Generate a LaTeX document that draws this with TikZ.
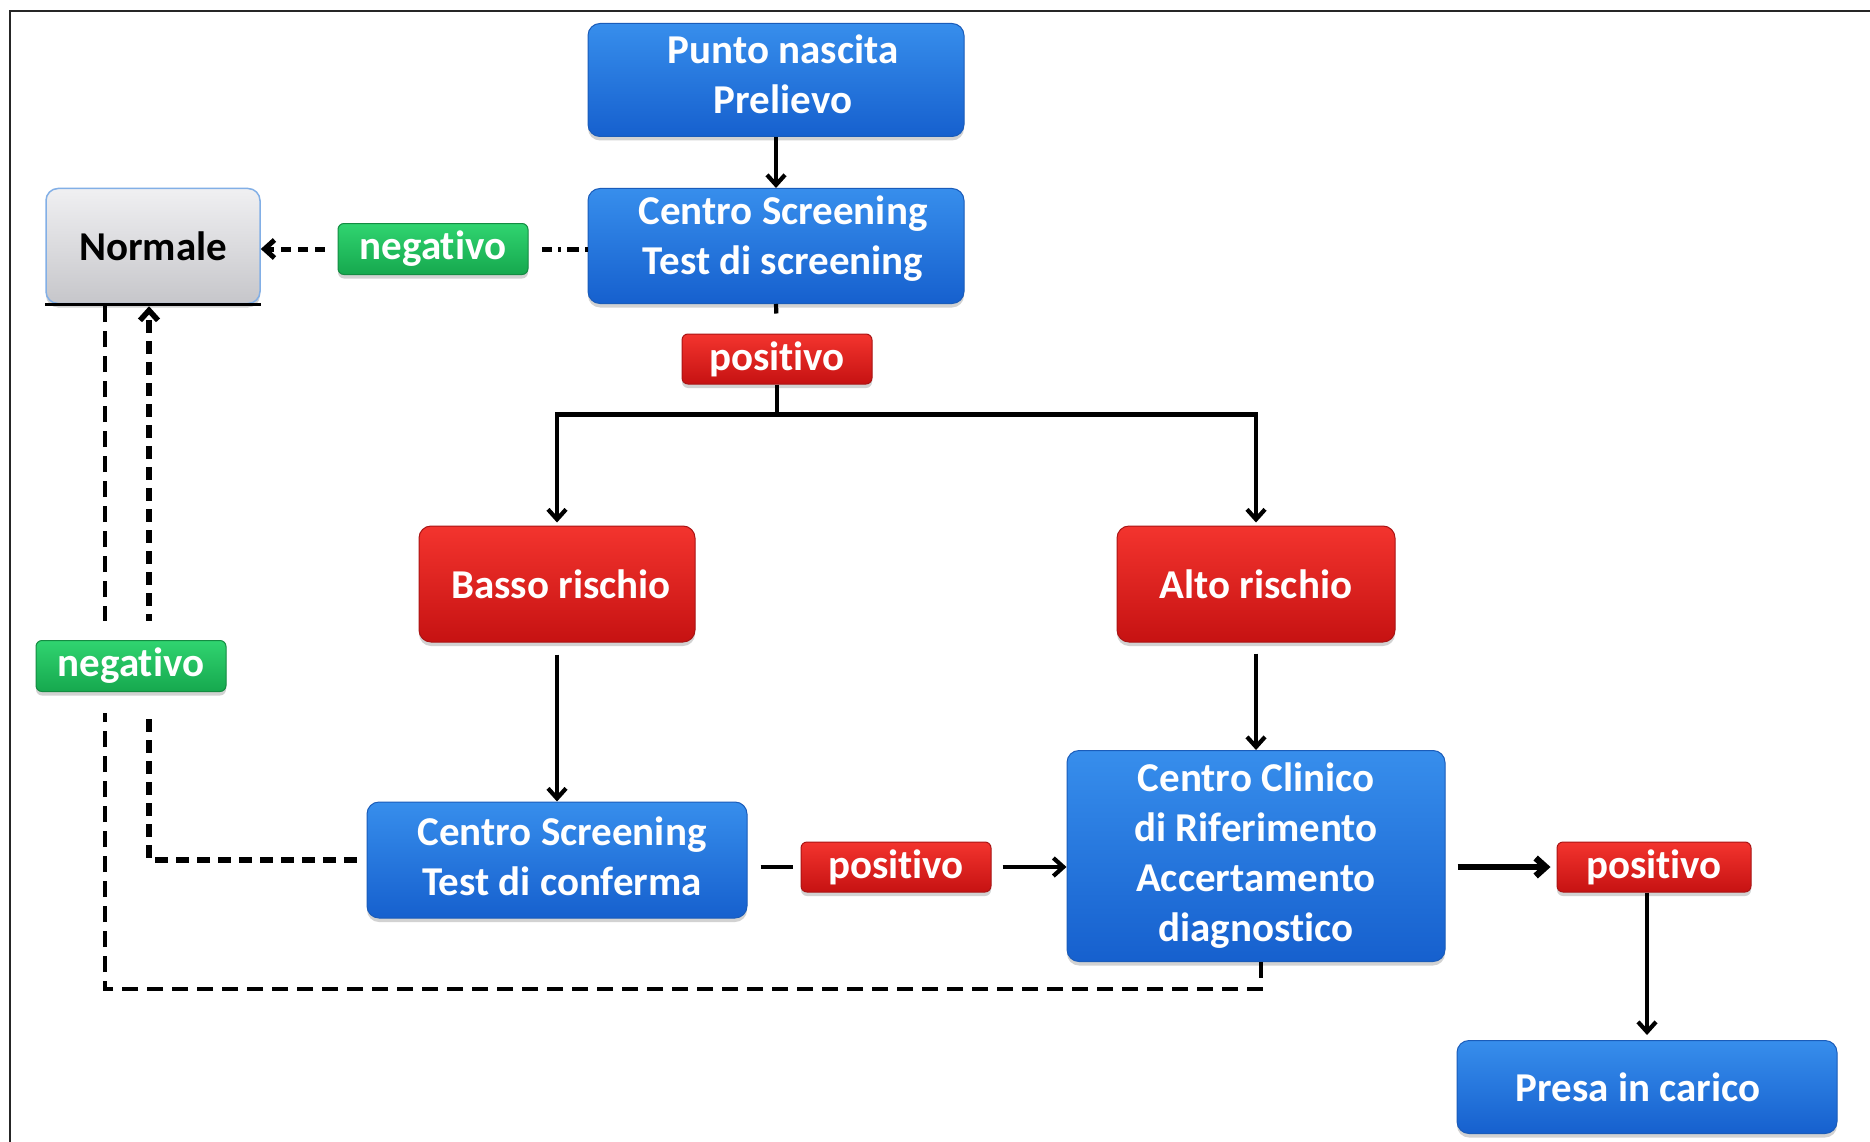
\documentclass[tikz,border=0pt]{standalone}
\usepackage{fontspec}
\setmainfont{Carlito}[RawFeature=-liga]
\usetikzlibrary{arrows.meta,shadows,calc}
\definecolor{bTop}{RGB}{55,142,236}
\definecolor{bBot}{RGB}{22,96,206}
\definecolor{bEdge}{RGB}{26,92,186}
\definecolor{rTop}{RGB}{243,52,46}
\definecolor{rBot}{RGB}{198,18,18}
\definecolor{rEdge}{RGB}{170,20,20}
\definecolor{gTop}{RGB}{48,212,112}
\definecolor{gBot}{RGB}{22,168,78}
\definecolor{gEdge}{RGB}{20,140,66}
\definecolor{nTop}{RGB}{240,240,242}
\definecolor{nBot}{RGB}{198,198,202}
\definecolor{nEdge}{RGB}{130,175,230}
\newcommand{\upln}[2]{\raisebox{#1}[\height][\depth]{#2}}
\begin{document}
\begin{tikzpicture}[x=1pt,y=-1pt,
  base/.style={rounded corners=12pt, inner sep=0pt, align=center, text=white,
    font=\bfseries\fontsize{41}{50}\selectfont,
    drop shadow={shadow xshift=0pt,shadow yshift=-4pt,opacity=.35}},
  bluebox/.style={base, top color=bTop, bottom color=bBot, draw=bEdge, line width=1pt},
  redbox/.style={base, top color=rTop, bottom color=rBot, draw=rEdge, line width=1pt},
  redlab/.style={redbox, rounded corners=6pt, minimum width=190pt, minimum height=50pt},
  greenlab/.style={base, rounded corners=6pt, top color=gTop, bottom color=gBot, draw=gEdge, line width=1pt, minimum width=190pt, minimum height=51pt},
  graybox/.style={base, text=black, top color=nTop, bottom color=nBot, draw=nEdge, line width=1.5pt},
  ln/.style={line width=4.2pt, black},
  tip/.style={-{Straight Barb[length=10pt,width=18pt]}},
  arr/.style={ln, tip},
  dthick/.style={line width=5.5pt, black, dash pattern=on 13pt off 8pt},
  dlong/.style={line width=3.6pt, black, dash pattern=on 16pt off 9pt},
]
\useasboundingbox (0,0) rectangle (1870,1142);
\fill[white] (0,0) rectangle (1870,1142);
\draw[line width=2.2pt, black!85] (10,1142) -- (10,11) -- (1870,11);

% nodes
\node[bluebox, minimum width=376pt, minimum height=113pt] (punto) at (776,80) {\upln{6pt}{\hspace*{14pt}Punto nascita}\\\upln{6pt}{\hspace*{14pt}Prelievo}};
\node[bluebox, minimum width=376pt, minimum height=115pt] (cs1) at (776,246) {\upln{7pt}{\hspace*{14pt}Centro Screening}\\\upln{7pt}{\hspace*{14pt}Test di screening}};
\node[graybox, minimum width=214pt, minimum height=115pt] (norm) at (153,246) {Normale};
\node[greenlab] (neg1) at (433,249) {negativo};
\node[redlab] (pos1) at (777,359) {positivo};
\node[redbox, minimum width=276pt, minimum height=116pt] (basso) at (557,584) {\hspace*{8pt}Basso rischio};
\node[redbox, minimum width=278pt, minimum height=116pt] (alto) at (1256,584) {Alto rischio};
\node[bluebox, minimum width=380pt, minimum height=116pt] (conf) at (557,860) {\upln{4pt}{\hspace*{10pt}Centro Screening}\\\upln{4pt}{\hspace*{10pt}Test di conferma}};
\node[redlab] (pos2) at (896,867) {positivo};
\node[bluebox, minimum width=378pt, minimum height=211pt] (clin) at (1256,856) {Centro Clinico\\di Riferimento\\Accertamento\\diagnostico};
\node[redlab, minimum width=194pt] (pos3) at (1654,867) {positivo};
\node[bluebox, minimum width=380pt, minimum height=93pt] (presa) at (1647,1087) {Presa in carico\hspace*{18pt}};

\draw[line width=3.5pt] (norm.south west) -- (norm.south east);

% solid connectors
\draw[arr] (punto.south) -- (cs1.north);
\draw[ln, shorten >=20pt] (cs1.south) -- (pos1.north);
\coordinate (jn) at ($(pos1.south)+(0,30)$);
\draw[ln] (pos1.south) -- (jn);
\draw[arr, shorten >=3pt] (jn) -| (basso.north);
\draw[arr, shorten >=3pt] (jn) -| (alto.north);
\draw[arr, shorten <=12pt] (basso.south) -- (conf.north);
\draw[arr, shorten <=11pt] (alto.south) -- (clin.north);
\draw[ln, shorten <=13pt, shorten >=8pt] (conf.east |- pos2.west) -- (pos2.west);
\draw[arr, shorten <=11pt] (pos2.east) -- (clin.west |- pos2.east);
\draw[arr, line width=6.5pt, shorten <=12pt, shorten >=6pt] (clin.east |- pos3.west) -- (pos3.west);
\draw[arr, shorten >=5pt] (pos3.south -| presa.north) -- (presa.north);

% dashed connectors
\coordinate (nA) at ($(norm.south)+(-4,2)$);
\coordinate (nB) at ($(norm.south)+(-48,2)$);
\draw[line width=5pt, dash pattern=on 3pt off 6pt on 12pt off 6pt, shorten >=13pt] (cs1.west |- neg1.east) -- (neg1.east);
\draw[line width=5pt, dash pattern=on 10pt off 7pt, tip, shorten <=13pt] (neg1.west) -- (norm.east |- neg1.west);
\draw[dthick, tip, shorten <=10pt] (conf.west) -| (nA);
\coordinate (cb) at ($(clin.south)+(5,27)$);
\draw[dlong] ($(clin.south)+(5,0)$) -- (cb) -| (nB);
\fill[white] (90,621) rectangle (165,713);
\node[greenlab] (neg2) at (131,666) {negativo};
\end{tikzpicture}
\end{document}
